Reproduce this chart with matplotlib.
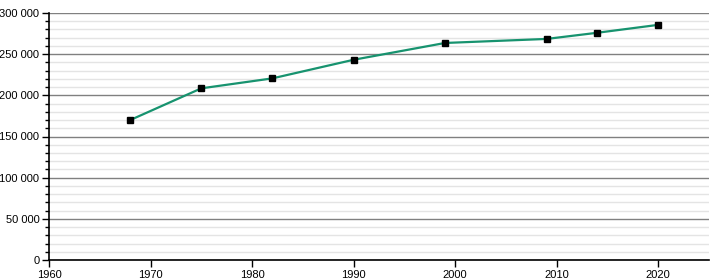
import matplotlib.pyplot as plt
from matplotlib.ticker import MultipleLocator, FuncFormatter

plt.rcParams['font.family'] = ['Liberation Sans', 'DejaVu Sans']

# Population data
years = [1968, 1975, 1982, 1990, 1999, 2009, 2014, 2020]
population = [170000, 208500, 220600, 243200, 263600, 268500, 276000, 285600]

fig = plt.figure(figsize=(7.2, 2.8), dpi=100)
ax = fig.add_axes([49 / 720, 20 / 280, 660 / 720, 247 / 280])

ax.plot(years, population, color="#17936f", linewidth=1.6, zorder=3)
ax.plot(years, population, linestyle="none", marker="s", markersize=4,
        color="black", zorder=4)

ax.set_xlim(1960, 2025)
ax.set_ylim(0, 300000)
ax.xaxis.set_major_locator(MultipleLocator(10))
ax.yaxis.set_major_locator(MultipleLocator(50000))
ax.yaxis.set_minor_locator(MultipleLocator(10000))
ax.yaxis.set_major_formatter(FuncFormatter(lambda v, p: f"{int(v):,}".replace(",", " ")))

ax.grid(axis="y", which="major", color="#808080", linewidth=1)
ax.grid(axis="y", which="minor", color="#e4e4e4", linewidth=1)
ax.set_axisbelow(True)

for s in ["top", "right"]:
    ax.spines[s].set_visible(False)
ax.spines["left"].set_linewidth(1.2)
ax.spines["bottom"].set_linewidth(1.2)

ax.tick_params(axis="both", which="major", labelsize=8, length=5, width=1, pad=2)
ax.tick_params(axis="y", which="minor", length=3, width=1)

plt.savefig("out.png", dpi=100)
